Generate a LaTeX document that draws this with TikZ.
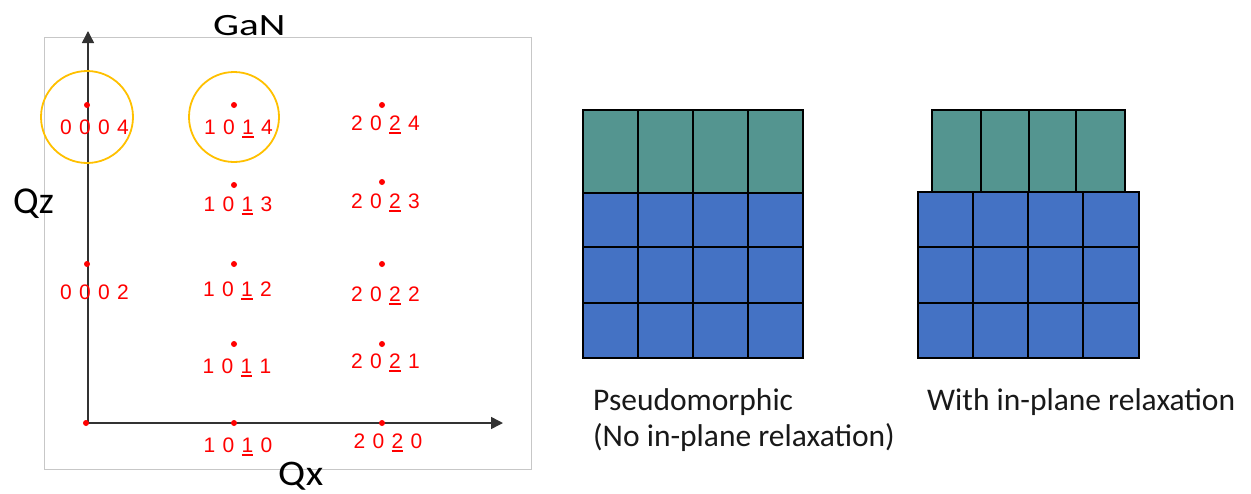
\documentclass[tikz,border=0pt]{standalone}
\usepackage{fontspec}
\setmainfont{Carlito}
\newfontfamily\labfont[WordSpace=1.25]{Liberation Sans}
\usetikzlibrary{arrows.meta}
\definecolor{layerteal}{RGB}{84,149,144}
\definecolor{layerblue}{RGB}{68,114,196}
\definecolor{ringgold}{RGB}{255,192,0}
\definecolor{axisgray}{RGB}{50,50,50}
\definecolor{spotred}{RGB}{255,0,0}
\newcommand\ulx[1]{\leavevmode\setbox0\hbox{#1}\rlap{\color{spotred}\rule[-4pt]{\wd0}{1.6pt}}\box0\relax}
\tikzset{
  frame/.style={draw=black!22, line width=1pt},
  axisline/.style={draw=axisgray, line width=1.5pt, -{Triangle[length=12pt,width=12pt]}},
  spot/.style={circle, fill=spotred, inner sep=0pt, minimum size=6pt},
  hkl/.style={text=spotred, font=\labfont\fontsize{21}{25}\selectfont, anchor=base, inner sep=0pt},
  ring/.style={draw=ringgold, line width=1.8pt},
  axlabel/.style={font=\fontsize{38}{44}\selectfont, anchor=base west, inner sep=0pt},
  caption/.style={font=\fontsize{31.5}{38}\selectfont, anchor=base west, inner sep=0pt, text=black!90},
  gridline/.style={draw=black, line width=2.4pt},
}
\begin{document}
\begin{tikzpicture}[x=1pt,y=-1pt]
\useasboundingbox (0,0) rectangle (1251,493);
% frame of the map
\draw[frame] (44,37) rectangle (531,469);
% axes
\coordinate (origin) at (88,423);
\coordinate (ztip) at (88,31);
\coordinate (xtip) at (503,423);
\draw[axisline] (origin) -- (ztip);
\draw[axisline] (origin) -- (xtip);
% rings
\draw[ring] (87,117) circle[radius=46pt];
\draw[ring] (234,117) circle[radius=45pt];
% spots
\node[spot] (d0004) at (87,105) {};
\node[spot] (d1014) at (234,105) {};
\node[spot] (d2024) at (382,105) {};
\node[spot] (d1013) at (234,185) {};
\node[spot] (d2023) at (382,182) {};
\node[spot] (d0002) at (87,264) {};
\node[spot] (d1012) at (234,264) {};
\node[spot] (d2022) at (382,264) {};
\node[spot] (d1011) at (234,344) {};
\node[spot] (d2021) at (382,344) {};
\node[spot] (d0000) at (86,423) {};
\node[spot] (d1010) at (234,423) {};
\node[spot] (d2020) at (382,423) {};
% labels
\node[hkl] (t0004) at (94.5,134) {0 0 0 4};
\node[hkl] (t1014) at (238.5,134) {1 0 \ulx{1} 4};
\node[hkl] (t2024) at (385.5,130) {2 0 \ulx{2} 4};
\node[hkl] (t1013) at (238,211) {1 0 \ulx{1} 3};
\node[hkl] (t2023) at (385.5,208) {2 0 \ulx{2} 3};
\node[hkl] (t0002) at (94.5,299) {0 0 0 2};
\node[hkl] (t1012) at (237.5,296) {1 0 \ulx{1} 2};
\node[hkl] (t2022) at (385.5,301) {2 0 \ulx{2} 2};
\node[hkl] (t1011) at (237,373) {1 0 \ulx{1} 1};
\node[hkl] (t2021) at (385.5,368) {2 0 \ulx{2} 1};
\node[hkl] (t1010) at (238,452) {1 0 \ulx{1} 0};
\node[hkl] (t2020) at (388,448) {2 0 \ulx{2} 0};
% axis titles
\node[axlabel] (gan) at (213,35) {\fontsize{31}{36}\selectfont\scalebox{1.33}[1]{GaN}};
\node[axlabel] (qz) at (13,213) {Qz};
\node[axlabel] (qx) at (278,485) {\fontsize{36}{42}\selectfont\scalebox{1.12}[1]{Qx}};
% pseudomorphic stack
\fill[layerteal] (583,110) rectangle (803,193);
\fill[layerblue] (583,193) rectangle (803,358);
\draw[gridline] (583,110) rectangle (803,358);
\foreach \cx in {638,693,748} {\draw[gridline] (\cx,110) -- (\cx,358);}
\foreach \ry in {193,247,303} {\draw[gridline] (583,\ry) -- (803,\ry);}
% relaxed stack
\fill[layerteal] (932,110) rectangle (1125,193);
\draw[gridline] (932,110) rectangle (1125,193);
\foreach \cx in {981,1029,1076} {\draw[gridline] (\cx,110) -- (\cx,193);}
\fill[layerblue] (918,192) rectangle (1139,358);
\draw[gridline] (918,192) rectangle (1139,358);
\foreach \cx in {973,1028,1083} {\draw[gridline] (\cx,192) -- (\cx,358);}
\foreach \ry in {247,303} {\draw[gridline] (918,\ry) -- (1139,\ry);}
% captions
\node[caption] (capA) at (593,410) {Pseudomorphic};
\node[caption] (capB) at (593,446) {(No in-plane relaxation)};
\node[caption] (capC) at (927,410) {With in-plane relaxation};
\end{tikzpicture}
\end{document}
